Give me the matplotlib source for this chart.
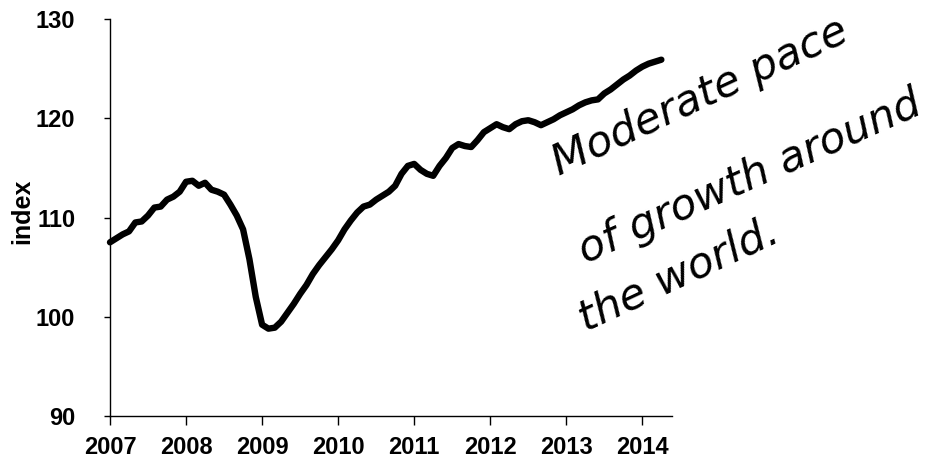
import matplotlib
matplotlib.use("Agg")
import matplotlib.pyplot as plt
import numpy as np

# monthly index values, Jan 2007 .. Apr 2014
start_year = 2007
values_2007 = [107.5, 107.9, 108.3, 108.6, 109.5, 109.6, 110.2, 111.0, 111.1, 111.8, 112.1, 112.6]
values_2008 = [113.6, 113.7, 113.2, 113.5, 112.8, 112.6, 112.3, 111.3, 110.2, 108.8, 105.8, 102.0]
values_2009 = [99.2, 98.8, 98.9, 99.5, 100.4, 101.3, 102.3, 103.2, 104.3, 105.2, 106.0, 106.8]
values_2010 = [107.7, 108.8, 109.7, 110.5, 111.1, 111.3, 111.8, 112.2, 112.6, 113.2, 114.4, 115.2]
values_2011 = [115.4, 114.8, 114.4, 114.2, 115.2, 116.0, 117.0, 117.4, 117.2, 117.1, 117.8, 118.6]
values_2012 = [119.0, 119.4, 119.1, 118.9, 119.4, 119.7, 119.8, 119.6, 119.3, 119.6, 119.9, 120.3]
values_2013 = [120.6, 120.9, 121.3, 121.6, 121.8, 121.9, 122.5, 122.9, 123.4, 123.9, 124.3, 124.8]
values_2014 = [125.2, 125.5, 125.7, 125.9]

year_ticks = [2007, 2008, 2009, 2010, 2011, 2012, 2013, 2014]
y_ticks = [90, 100, 110, 120, 130]
note_lines = ["Moderate pace", "of growth around", "the world."]

values = (values_2007 + values_2008 + values_2009 + values_2010 +
          values_2011 + values_2012 + values_2013 + values_2014)
t = start_year + np.arange(len(values)) / 12.0

fig = plt.figure(figsize=(9.43, 4.61), dpi=100)
ax = fig.add_axes([110 / 943, 1 - 416 / 461, (672 - 110) / 943, (416 - 19) / 461])

ax.plot(t, values, color='black', lw=4.6, solid_capstyle='round',
        solid_joinstyle='round', clip_on=False)

ax.set_xlim(2007, 2014.39)
ax.set_ylim(90, 130)
ax.set_xticks(year_ticks)
ax.set_yticks(y_ticks)

tick_font = dict(family='Liberation Sans', weight='bold', size=17)
ax.set_xticklabels([str(y) for y in year_ticks], fontdict=tick_font)
ax.set_yticklabels([str(v) for v in y_ticks], fontdict=tick_font)
ax.tick_params(axis='x', direction='out', length=6.5, width=1, pad=8)
ax.tick_params(axis='y', direction='out', length=4, width=1, pad=21)

ax.set_ylabel('index', family='Liberation Sans', weight='bold', size=18, va='center')
ax.yaxis.set_label_coords(-0.157, 0.516)

for side in ['top', 'right']:
    ax.spines[side].set_visible(False)
for side in ['left', 'bottom']:
    ax.spines[side].set_linewidth(1)

# handwritten note, anchored at the baseline centre of each line
note_pos = [(705, 108, 25), (755, 188, 24), (684, 286, 25)]
for txt, (px, py, rot) in zip(note_lines, note_pos):
    fig.text(px / 943, 1 - py / 461, txt, ha='center', va='baseline',
             rotation=rot, rotation_mode='anchor', fontsize=31,
             family='DejaVu Sans', style='italic', weight='light')

fig.savefig('out.png', dpi=100)
